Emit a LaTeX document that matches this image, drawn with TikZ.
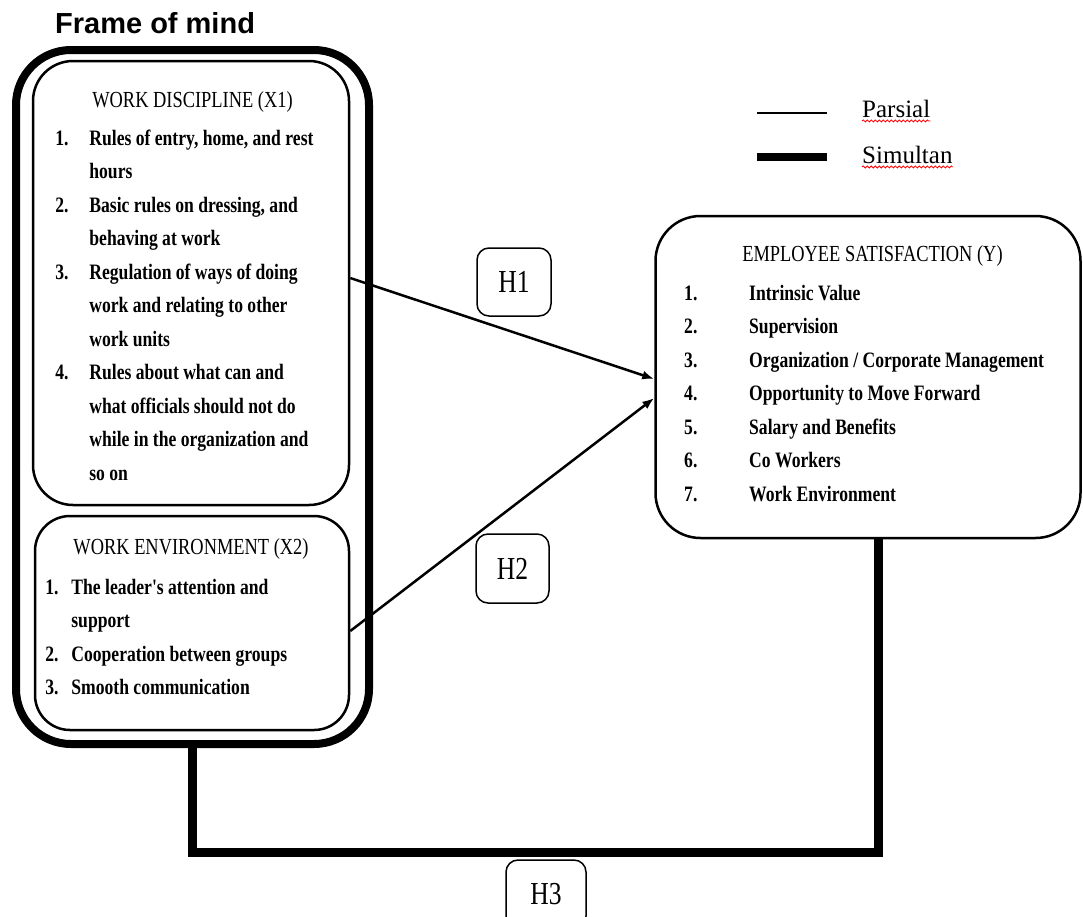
\documentclass[tikz,border=0pt]{standalone}
\usepackage{fontspec}
\newfontfamily\tnr{Liberation Serif}[FakeStretch=0.8]
\newfontfamily\legfont{Liberation Serif}
\newfontfamily\arial{Liberation Sans}
\usetikzlibrary{matrix,arrows.meta,decorations.pathmorphing}

\begin{document}
\begin{tikzpicture}[x=1pt,y=-1pt,
    frame/.style={draw,line width=8pt,rounded corners=55pt,inner sep=0pt},
    varbox/.style={draw,line width=2.5pt,rounded corners=40pt,inner sep=0pt},
    hypbox/.style={draw,line width=1.5pt,rounded corners=12pt,inner sep=0pt,
      font=\tnr\fontsize{32}{32}\selectfont},
    headtxt/.style={anchor=base,inner sep=0pt,font=\tnr\fontsize{23}{23}\selectfont},
    itemlist/.style={matrix of nodes,anchor=north west,inner sep=0pt,
      nodes={anchor=base west,inner sep=0pt,text height=23.5pt,text depth=10pt,
        font=\tnr\bfseries\fontsize{22}{22}\selectfont}},
    legtxt/.style={anchor=base west,inner sep=0pt,font=\legfont\fontsize{25}{25}\selectfont},
    parsial/.style={line width=2.5pt,-{Latex[length=12pt,width=9pt]}},
    simultan/.style={line width=9pt,line join=miter},
    squiggle/.style={draw=red,line width=0.8pt,decorate,
      decoration={snake,segment length=4pt,amplitude=1pt}}
  ]
  \useasboundingbox (0,0) rectangle (1083,916);
  \clip (0,0) rectangle (1083,916);

  \node (title) [anchor=base west,inner sep=0pt,
    font=\arial\bfseries\fontsize{29}{29}\selectfont] at (55,33) {Frame of mind};

  \node (frame) [frame,minimum width=353pt,minimum height=694pt] at (192.5,397) {};
  \node (wd) [varbox,minimum width=316pt,minimum height=444pt] at (191,283) {};
  \node (we) [varbox,rounded corners=35pt,minimum width=314pt,minimum height=214pt] at (192,623) {};
  \node (es) [varbox,rounded corners=45pt,minimum width=425pt,minimum height=322pt] at (868,377) {};

  \node (wdhead) [headtxt] at (192.5,107) {WORK DISCIPLINE (X1)};
  \matrix (wdlist) [itemlist,column 1/.style={nodes={text width=34pt}}] at (55,121.5) {
    1. & Rules of entry, home, and rest \\
       & hours \\
    2. & Basic rules on dressing, and \\
       & behaving at work \\
    3. & Regulation of ways of doing \\
       & work and relating to other \\
       & work units \\
    4. & Rules about what can and \\
       & what officials should not do \\
       & while in the organization and \\
       & so on \\
  };

  \node (wehead) [headtxt] at (191,554) {WORK ENVIRONMENT (X2)};
  \matrix (welist) [itemlist,column 1/.style={nodes={text width=26pt}}] at (45,570.5) {
    1. & The leader's attention and \\
       & support \\
    2. & Cooperation between groups \\
    3. & Smooth communication \\
  };

  \node (eshead) [headtxt] at (872.5,261) {EMPLOYEE SATISFACTION (Y)};
  \matrix (eslist) [itemlist,column 1/.style={nodes={text width=65pt}}] at (684,276.5) {
    1. & Intrinsic Value \\
    2. & Supervision \\
    3. & Organization / Corporate Management \\
    4. & Opportunity to Move Forward \\
    5. & Salary and Benefits \\
    6. & Co Workers \\
    7. & Work Environment \\
  };

  \coordinate (parA) at (757,113);
  \coordinate (parB) at (827,113);
  \coordinate (simA) at (757,157);
  \coordinate (simB) at (827,157);
  \draw[line width=2.5pt] (parA) -- (parB);
  \draw[line width=8.5pt] (simA) -- (simB);
  \node (par) [legtxt] at (862,117) {Parsial};
  \node (sim) [legtxt] at (862,163) {Simultan};
  \draw[squiggle] ([yshift=-3.5pt]par.south west) -- ([yshift=-3.5pt]par.south east);
  \draw[squiggle] ([yshift=-3.5pt]sim.south west) -- ([yshift=-3.5pt]sim.south east);

  \node (h1) [hypbox,minimum width=74pt,minimum height=68pt] at (514,282) {H1};
  \node (h2) [hypbox,minimum width=73pt,minimum height=69pt] at (512.5,568.5) {H2};
  \node (h3) [hypbox,minimum width=80pt,minimum height=68pt] at (546,894) {H3};

  \draw[parsial] ([yshift=5pt]wd.east) -- ([yshift=-2pt]es.west);
  \draw[parsial] ([yshift=-8pt]we.east) -- ([yshift=-21pt]es.west);
  \draw[simultan] (frame.south) -- ++(0,104) -| ([xshift=10pt]es.south);
\end{tikzpicture}
\end{document}
